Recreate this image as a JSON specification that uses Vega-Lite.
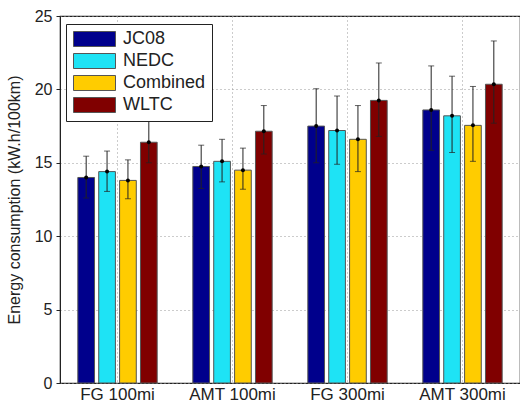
{
  "$schema": "https://vega.github.io/schema/vega-lite/v6.json",
  "width": 460,
  "height": 367,
  "autosize": {"type": "none"},
  "padding": {"left": 60, "top": 16, "right": 0, "bottom": 20},
  "config": {
    "font": "Liberation Sans",
    "view": {"stroke": "#222", "strokeWidth": 1.2},
    "axis": {"labelColor": "#222", "titleColor": "#222", "titleFontWeight": "normal"}
  },
  "data": {
    "values": [
      {"group": "FG 100mi", "series": "JC08", "value": 14.0, "lo": 12.6, "hi": 15.45},
      {"group": "FG 100mi", "series": "NEDC", "value": 14.4, "lo": 13.05, "hi": 15.8},
      {"group": "FG 100mi", "series": "Combined", "value": 13.8, "lo": 12.55, "hi": 15.2},
      {"group": "FG 100mi", "series": "WLTC", "value": 16.4, "lo": 15.0, "hi": 18.0},
      {"group": "AMT 100mi", "series": "JC08", "value": 14.75, "lo": 13.25, "hi": 16.2},
      {"group": "AMT 100mi", "series": "NEDC", "value": 15.1, "lo": 13.7, "hi": 16.6},
      {"group": "AMT 100mi", "series": "Combined", "value": 14.5, "lo": 13.2, "hi": 16.0},
      {"group": "AMT 100mi", "series": "WLTC", "value": 17.15, "lo": 15.6, "hi": 18.9},
      {"group": "FG 300mi", "series": "JC08", "value": 17.5, "lo": 15.0, "hi": 20.05},
      {"group": "FG 300mi", "series": "NEDC", "value": 17.2, "lo": 14.9, "hi": 19.55},
      {"group": "FG 300mi", "series": "Combined", "value": 16.6, "lo": 14.4, "hi": 18.9},
      {"group": "FG 300mi", "series": "WLTC", "value": 19.25, "lo": 16.8, "hi": 21.8},
      {"group": "AMT 300mi", "series": "JC08", "value": 18.6, "lo": 15.85, "hi": 21.6},
      {"group": "AMT 300mi", "series": "NEDC", "value": 18.2, "lo": 15.7, "hi": 20.9},
      {"group": "AMT 300mi", "series": "Combined", "value": 17.55, "lo": 15.1, "hi": 20.2},
      {"group": "AMT 300mi", "series": "WLTC", "value": 20.35, "lo": 17.7, "hi": 23.3}
    ]
  },
  "encoding": {
    "x": {
      "field": "group", "type": "nominal",
      "sort": ["FG 100mi", "AMT 100mi", "FG 300mi", "AMT 300mi"],
      "scale": {"paddingInner": 0.31, "paddingOuter": 0.155},
      "axis": {
        "title": null, "labelAngle": 0, "labelFontSize": 17, "labelPadding": 3,
        "domain": false, "ticks": false,
        "grid": true, "gridColor": "#999", "gridDash": [1, 3], "gridWidth": 1
      }
    },
    "xOffset": {
      "field": "series", "type": "nominal",
      "sort": ["JC08", "NEDC", "Combined", "WLTC"],
      "scale": {"paddingInner": 0.2, "paddingOuter": 0}
    }
  },
  "layer": [
    {
      "mark": {"type": "bar", "stroke": "#555", "strokeWidth": 1},
      "encoding": {
        "y": {
          "field": "value", "type": "quantitative",
          "scale": {"domain": [0, 25], "nice": false},
          "axis": {
            "title": "Energy consumption (kW.h/100km)", "titleFontSize": 16, "titlePadding": 12,
            "values": [0, 5, 10, 15, 20, 25], "labelFontSize": 16, "labelPadding": 4,
            "domainColor": "#222", "tickColor": "#222", "tickSize": 4, "labelFlush": false,
            "grid": true, "gridColor": "#999", "gridDash": [1, 3], "gridWidth": 1
          }
        },
        "color": {
          "field": "series", "type": "nominal",
          "sort": ["JC08", "NEDC", "Combined", "WLTC"],
          "scale": {"domain": ["JC08", "NEDC", "Combined", "WLTC"], "range": ["#00008c", "#1ee3f5", "#ffcc00", "#800000"]},
          "legend": {
            "title": null, "orient": "none", "legendX": 6, "legendY": 8,
            "symbolType": "M-1,-1H4.6V1H-1Z", "symbolSize": 225,
            "symbolStrokeColor": "#555", "symbolStrokeWidth": 1, "symbolOpacity": 1,
            "labelFontSize": 18, "labelColor": "#222", "labelOffset": 33, "labelAlign": "left",
            "rowPadding": 2, "padding": 6,
            "strokeColor": "#222", "fillColor": "white"
          }
        }
      }
    },
    {
      "mark": {"type": "rule", "color": "#222", "strokeWidth": 1},
      "encoding": {
        "y": {"field": "lo", "type": "quantitative"},
        "y2": {"field": "hi"}
      }
    },
    {
      "mark": {"type": "tick", "color": "#222", "orient": "horizontal", "size": 6, "thickness": 1},
      "encoding": {"y": {"field": "lo", "type": "quantitative"}}
    },
    {
      "mark": {"type": "tick", "color": "#222", "orient": "horizontal", "size": 6, "thickness": 1},
      "encoding": {"y": {"field": "hi", "type": "quantitative"}}
    },
    {
      "mark": {"type": "point", "filled": true, "color": "#000", "size": 16, "opacity": 1},
      "encoding": {"y": {"field": "value", "type": "quantitative"}}
    }
  ]
}
